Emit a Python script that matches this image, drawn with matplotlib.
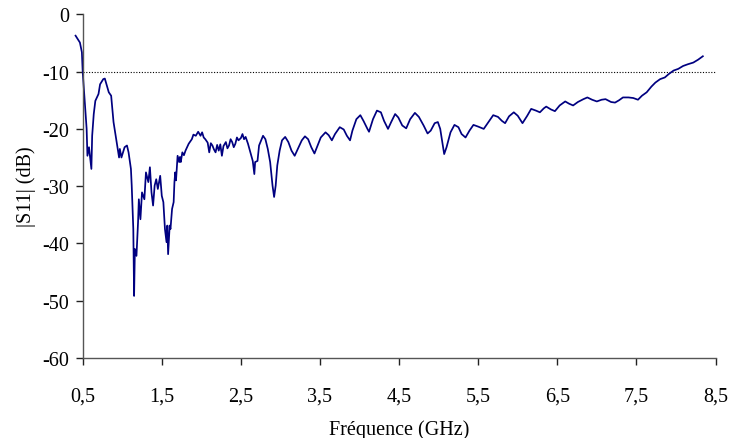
import matplotlib
matplotlib.use("Agg")
import matplotlib.pyplot as plt
from matplotlib.ticker import FixedLocator

freq_ghz = [
    0.41, 0.465, 0.49, 0.50, 0.53, 0.55, 0.56, 0.58, 0.61, 0.62, 0.64, 0.66,
    0.70, 0.72, 0.76, 0.78, 0.83, 0.86, 0.89, 0.93, 0.96, 0.97, 0.99, 1.03,
    1.06, 1.08, 1.11, 1.12, 1.14, 1.15, 1.16, 1.18, 1.20, 1.21, 1.23, 1.25,
    1.28, 1.30, 1.33, 1.35, 1.37, 1.39, 1.41, 1.43, 1.45, 1.48, 1.50, 1.52,
    1.54, 1.56, 1.57, 1.58, 1.60, 1.61, 1.63, 1.65, 1.66, 1.67, 1.68, 1.70,
    1.72, 1.73, 1.74, 1.76, 1.78, 1.80, 1.82, 1.84, 1.86, 1.88, 1.90, 1.93,
    1.96, 1.99, 2.01, 2.03, 2.05, 2.08, 2.10, 2.12, 2.14, 2.16, 2.18, 2.20,
    2.22, 2.24, 2.26, 2.28, 2.31, 2.33, 2.35, 2.37, 2.39, 2.41, 2.43, 2.45,
    2.47, 2.50, 2.52, 2.54, 2.56, 2.59, 2.62, 2.65, 2.67, 2.68, 2.71, 2.73,
    2.78, 2.81, 2.84, 2.87, 2.90, 2.92, 2.94, 2.96, 2.99, 3.02, 3.06, 3.10,
    3.14, 3.18, 3.22, 3.27, 3.31, 3.35, 3.39, 3.43, 3.47, 3.51, 3.57, 3.61,
    3.65, 3.69, 3.75, 3.80, 3.84, 3.88, 3.91, 3.96, 4.01, 4.05, 4.10, 4.12,
    4.17, 4.22, 4.27, 4.31, 4.36, 4.40, 4.45, 4.49, 4.54, 4.59, 4.64, 4.70,
    4.75, 4.81, 4.86, 4.90, 4.95, 4.99, 5.02, 5.05, 5.07, 5.10, 5.15, 5.20,
    5.25, 5.29, 5.34, 5.39, 5.44, 5.50, 5.57, 5.63, 5.69, 5.75, 5.80, 5.84,
    5.89, 5.95, 6.00, 6.06, 6.12, 6.17, 6.23, 6.28, 6.33, 6.36, 6.42, 6.47,
    6.53, 6.60, 6.65, 6.70, 6.76, 6.83, 6.88, 6.94, 7.00, 7.06, 7.11, 7.18,
    7.23, 7.28, 7.33, 7.40, 7.46, 7.52, 7.57, 7.63, 7.69, 7.74, 7.80, 7.86,
    7.91, 7.97, 8.03, 8.09, 8.15, 8.22, 8.28, 8.34,
]
s11_db = [
    -3.7, -4.9, -6.6, -10.0, -15.9, -20.0, -24.7, -23.2, -27.0, -21.2, -17.4, -15.1,
    -13.9, -12.2, -11.3, -11.2, -13.6, -14.2, -18.8, -22.3, -25.0, -23.5, -25.0, -23.2,
    -22.9, -24.1, -27.0, -29.9, -37.5, -49.2, -41.0, -42.2, -36.3, -32.3, -35.8, -31.1,
    -32.3, -27.6, -29.3, -26.7, -31.1, -33.4, -29.9, -28.8, -30.5, -28.2, -31.7, -32.8,
    -37.5, -39.8, -36.9, -41.9, -36.9, -37.5, -34.0, -32.8, -29.3, -27.6, -29.0, -24.7,
    -25.8, -24.9, -25.8, -24.1, -24.6, -23.8, -23.2, -22.6, -22.2, -21.8, -21.0, -21.2,
    -20.5, -21.2, -20.6, -21.5, -21.8, -22.4, -24.1, -22.5, -22.9, -23.6, -24.1, -22.8,
    -23.8, -22.7, -24.7, -23.0, -22.3, -23.4, -22.9, -21.8, -22.3, -23.2, -22.6, -21.5,
    -22.0, -21.6, -20.9, -21.8, -21.4, -22.6, -24.1, -25.6, -27.9, -25.8, -25.6, -22.9,
    -21.2, -21.8, -23.5, -25.8, -29.9, -31.9, -29.9, -26.4, -23.8, -22.0, -21.4, -22.3,
    -23.8, -24.7, -23.5, -22.0, -21.3, -21.8, -23.2, -24.3, -22.9, -21.5, -20.6, -21.1,
    -22.0, -20.9, -19.7, -20.1, -21.2, -22.0, -20.3, -18.3, -17.6, -18.6, -20.0, -20.5,
    -18.3, -16.8, -17.1, -18.6, -20.0, -18.8, -17.4, -18.0, -19.4, -19.9, -18.3, -17.2,
    -17.9, -19.4, -20.8, -20.3, -19.0, -18.8, -20.0, -22.6, -24.4, -23.2, -20.6, -19.3,
    -19.7, -20.9, -21.5, -20.3, -19.3, -19.6, -20.0, -18.8, -17.6, -17.9, -18.6, -19.0,
    -17.8, -17.1, -17.7, -19.0, -17.7, -16.5, -16.8, -17.1, -16.4, -16.1, -16.6, -16.9,
    -15.9, -15.2, -15.6, -15.9, -15.3, -14.8, -14.5, -14.9, -15.2, -14.9, -14.8, -15.3,
    -15.4, -15.0, -14.5, -14.5, -14.6, -14.9, -14.2, -13.6, -12.6, -11.9, -11.3, -11.0,
    -10.4, -9.8, -9.5, -9.0, -8.7, -8.4, -7.9, -7.3,
]

ref_level_db = -10
x_ticks = [0.5, 1.5, 2.5, 3.5, 4.5, 5.5, 6.5, 7.5, 8.5]
x_tick_labels = ["0,5", "1,5", "2,5", "3,5", "4,5", "5,5", "6,5", "7,5", "8,5"]
y_ticks = [0, -10, -20, -30, -40, -50, -60]
y_tick_labels = ["0", "-10", "-20", "-30", "-40", "-50", "-60"]

plt.rcParams["font.family"] = ["Liberation Serif", "DejaVu Serif"]

fig = plt.figure(figsize=(7.31, 4.39), dpi=100)
ax = fig.add_axes([0.1131, 0.1829, 0.8657, 0.7818])

ax.axhline(ref_level_db, color="black", linewidth=0.8, linestyle=(0, (1, 1.5)))
ax.plot(freq_ghz, s11_db, color="#000080", linewidth=1.25, clip_on=False)

ax.set_xlim(0.5, 8.5)
ax.set_ylim(-60, 0)
ax.xaxis.set_major_locator(FixedLocator(x_ticks))
ax.set_xticklabels(x_tick_labels)
ax.yaxis.set_major_locator(FixedLocator(y_ticks))
ax.set_yticklabels(y_tick_labels)

for side in ("top", "right"):
    ax.spines[side].set_visible(False)
for side in ("left", "bottom"):
    ax.spines[side].set_color("#555555")
    ax.spines[side].set_linewidth(1.0)

ax.tick_params(axis="both", direction="out", length=5, width=1.0,
               color="#222222", labelsize=14.5)
ax.tick_params(axis="y", pad=5)
ax.tick_params(axis="x", pad=15.5)

ax.set_xlabel("Fréquence (GHz)", fontsize=14.5, labelpad=10.5)
ax.set_ylabel("|S11| (dB)", fontsize=14.5, labelpad=4)

fig.savefig("out.png", dpi=100)
